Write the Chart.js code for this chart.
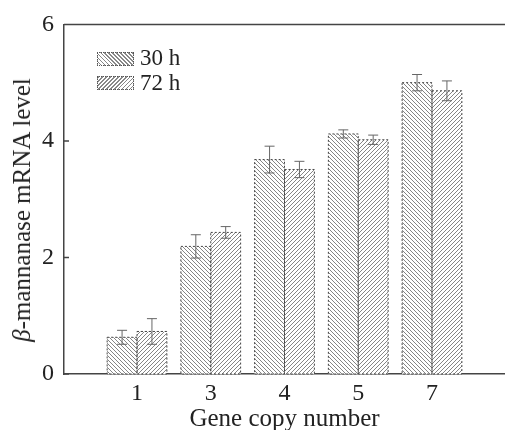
<!DOCTYPE html>
<html lang="en">
<head>
<meta charset="UTF-8" />
<title>Gene copy number vs mRNA level</title>
<script src="https://cdn.jsdelivr.net/npm/chart.js"></script>
<style>
  body { margin: 0; background: #fff; }
  #wrap { position: relative; width: 505px; height: 430px; font-family: "Liberation Serif", "Times New Roman", serif; color: #222; }
  .sw { position: absolute; left: 97px; width: 35px; height: 12px; border: 1px dotted #555; }
  .s30 { top: 52px; background: repeating-linear-gradient(45deg, #fff 0 1.5px, #888 1.5px 2.8px); }
  .s72 { top: 76px; background: repeating-linear-gradient(-45deg, #fff 0 1.5px, #888 1.5px 2.8px); }
  .lt { position: absolute; left: 140px; font-size: 23px; line-height: 24px; }
  #ytitle { position: absolute; left: 22px; top: 210px; font-size: 25px; white-space: nowrap;
            transform: translate(-50%, -50%) rotate(-90deg); }
</style>
</head>
<body>
<div id="wrap">
  <canvas id="chart" width="505" height="430"></canvas>
  <div class="sw s30"></div><div class="lt" style="top:46px">30 h</div>
  <div class="sw s72"></div><div class="lt" style="top:71px">72 h</div>
  <div id="ytitle"><i>β</i>-mannanase mRNA level</div>
</div>

<script>
  const categories = ['1', '3', '4', '5', '7'];
  const mean30 = [0.63, 2.19, 3.68, 4.12, 5.00];
  const err30  = [0.12, 0.20, 0.23, 0.07, 0.14];
  const mean72 = [0.73, 2.43, 3.51, 4.02, 4.86];
  const err72  = [0.22, 0.10, 0.14, 0.08, 0.17];
  const yTicks = [0, 2, 4, 6];

  const ctx = document.getElementById('chart').getContext('2d');

  function hatch(dir) {
    const c = document.createElement('canvas');
    c.width = c.height = 4;
    const g = c.getContext('2d');
    g.fillStyle = '#fff';
    g.fillRect(0, 0, 4, 4);
    g.strokeStyle = '#858585';
    g.lineWidth = 1;
    g.beginPath();
    if (dir > 0) {
      g.moveTo(0, 4); g.lineTo(4, 0);
      g.moveTo(-1, 1); g.lineTo(1, -1);
      g.moveTo(3, 5); g.lineTo(5, 3);
    } else {
      g.moveTo(0, 0); g.lineTo(4, 4);
      g.moveTo(-1, 3); g.lineTo(1, 5);
      g.moveTo(3, -1); g.lineTo(5, 1);
    }
    g.stroke();
    return ctx.createPattern(c, 'repeat');
  }

  const errors = [err30, err72];

  const extras = {
    id: 'extras',
    afterDatasetsDraw(chart) {
      const c = chart.ctx;
      const y = chart.scales.y;
      const area = chart.chartArea;
      c.save();
      chart.data.datasets.forEach((ds, di) => {
        const meta = chart.getDatasetMeta(di);
        meta.data.forEach((bar, i) => {
          const p = bar.getProps(['x', 'y', 'base', 'width'], true);
          // dotted outline
          c.setLineDash([2, 2]);
          c.strokeStyle = '#444';
          c.lineWidth = 1;
          c.strokeRect(p.x - p.width / 2, p.y, p.width, p.base - p.y);
          // error bar
          c.setLineDash([]);
          c.strokeStyle = '#666';
          const v = ds.data[i].y, e = errors[di][i];
          const hi = y.getPixelForValue(v + e), lo = y.getPixelForValue(v - e);
          c.beginPath();
          c.moveTo(p.x, hi); c.lineTo(p.x, lo);
          c.moveTo(p.x - 5, hi); c.lineTo(p.x + 5, hi);
          c.moveTo(p.x - 5, lo); c.lineTo(p.x + 5, lo);
          c.stroke();
        });
      });
      // top frame line and inward y ticks
      c.strokeStyle = '#444';
      c.lineWidth = 1.5;
      c.beginPath();
      c.moveTo(area.left, area.top);
      c.lineTo(chart.width, area.top);
      yTicks.forEach(t => {
        const py = y.getPixelForValue(t);
        c.moveTo(area.left, py);
        c.lineTo(area.left + 5, py);
      });
      c.stroke();
      c.restore();
    }
  };

  new Chart(ctx, {
    type: 'bar',
    data: {
      datasets: [
        {
          label: '30 h',
          data: mean30.map((v, i) => ({ x: i, y: v })),
          backgroundColor: hatch(-1),
          borderWidth: 0
        },
        {
          label: '72 h',
          data: mean72.map((v, i) => ({ x: i, y: v })),
          backgroundColor: hatch(1),
          borderWidth: 0
        }
      ]
    },
    options: {
      responsive: false,
      animation: false,
      categoryPercentage: 0.81,
      barPercentage: 1.0,
      layout: { padding: { top: 20, right: 0, left: 0, bottom: 0 } },
      plugins: { legend: { display: false }, tooltip: { enabled: false } },
      scales: {
        x: {
          type: 'linear',
          offset: false,
          min: -0.99,
          max: 4.99,
          afterBuildTicks: s => { s.ticks = categories.map((_, i) => ({ value: i })); },
          afterFit: s => { s.height = 56; },
          grid: { display: false, drawTicks: false },
          border: { color: '#444', width: 1.5 },
          ticks: {
            color: '#222',
            padding: 5,
            font: { family: 'Liberation Serif', size: 24 },
            callback: v => categories[v]
          },
          title: {
            display: true,
            text: 'Gene copy number',
            color: '#222',
            padding: { top: 0, bottom: -4 },
            font: { family: 'Liberation Serif', size: 25 }
          }
        },
        y: {
          min: 0,
          max: 6,
          afterBuildTicks: s => { s.ticks = yTicks.map(v => ({ value: v })); },
          afterFit: s => { s.width = 64; },
          grid: { display: false, drawTicks: false },
          border: { color: '#444', width: 1.5 },
          ticks: {
            color: '#222',
            padding: 10,
            font: { family: 'Liberation Serif', size: 24 }
          }
        }
      }
    },
    plugins: [extras]
  });
</script>
</body>
</html>
